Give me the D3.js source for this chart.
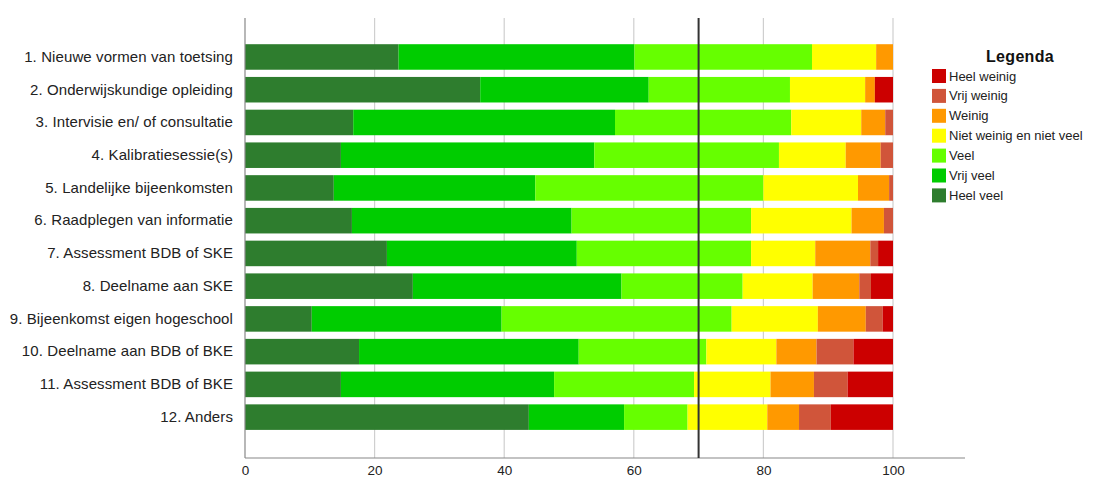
<!DOCTYPE html>
<html><head><meta charset="utf-8">
<script src="https://cdn.jsdelivr.net/npm/d3@7"></script>
<style>body{margin:0;background:#fff}svg{display:block;font-family:"Liberation Sans",Arial,sans-serif}</style>
</head><body><svg id="c" width="1111" height="479"></svg>
<script>
const categories = ["1. Nieuwe vormen van toetsing","2. Onderwijskundige opleiding","3. Intervisie en/ of consultatie","4. Kalibratiesessie(s)","5. Landelijke bijeenkomsten","6. Raadplegen van informatie","7. Assessment BDB of SKE","8. Deelname aan SKE","9. Bijeenkomst eigen hogeschool","10. Deelname aan BDB of BKE","11. Assessment BDB of BKE","12. Anders"];
const seriesNames = ["Heel veel","Vrij veel","Veel","Niet weinig en niet veel","Weinig","Vrij weinig","Heel weinig"];
const heelVeel    = [23.7,36.3,16.7,14.8,13.7,16.5,21.9,25.9,10.3,17.6,14.8,43.8];
const vrijVeel    = [36.4,26.0,40.4,39.1,31.1,33.9,29.3,32.2,29.3,33.9,32.9,14.7];
const veel        = [27.4,21.8,27.2,28.5,35.2,27.7,26.9,18.7,35.5,19.7,21.6,9.8];
const nietWeinig  = [9.9,11.6,10.8,10.3,14.6,15.5,9.9,10.8,13.3,10.8,11.8,12.3];
const weinig      = [2.6,1.5,3.7,5.4,4.8,5.0,8.5,7.2,7.4,6.2,6.7,4.9];
const vrijWeinig  = [0,0,1.2,1.9,0.6,1.4,1.2,1.8,2.6,5.7,5.2,4.9];
const heelWeinig  = [0,2.8,0,0,0,0,2.3,3.4,1.6,6.1,7.0,9.6];
const xTicks = [0,20,40,60,80,100];
const refValue = 70;
const colors = ["#2e7d2e","#00cc00","#66ff00","#ffff00","#ff9900","#d0553a","#cc0000"];
const legendOrder = ["Heel weinig","Vrij weinig","Weinig","Niet weinig en niet veel","Veel","Vrij veel","Heel veel"];

const seriesVals = [heelVeel,vrijVeel,veel,nietWeinig,weinig,vrijWeinig,heelWeinig];
const rows = categories.map((c,i)=>{const o={cat:c}; seriesNames.forEach((s,j)=>o[s]=seriesVals[j][i]); return o;});
const stacked = d3.stack().keys(seriesNames)(rows);

const svg = d3.select("#c");
const x = d3.scaleLinear().domain([0,100]).range([245,893]);
const y = d3.scaleBand().domain(categories).range([40.6,433.5]).paddingInner(0.22).paddingOuter(0.11);
const color = d3.scaleOrdinal().domain(seriesNames).range(colors);
const plotTop = 18, plotBottom = 458;

// gridlines
svg.append("g").selectAll("line").data(xTicks.slice(1)).join("line")
  .attr("x1",d=>x(d)).attr("x2",d=>x(d)).attr("y1",plotTop).attr("y2",plotBottom)
  .attr("stroke","#cfcfcf").attr("stroke-width",1.2);

// bars
svg.append("g").selectAll("g").data(stacked).join("g").attr("fill",d=>color(d.key))
  .selectAll("rect").data(d=>d).join("rect")
  .attr("x",d=>x(d[0])).attr("width",d=>Math.max(0,x(d[1])-x(d[0])))
  .attr("y",d=>y(d.data.cat)).attr("height",y.bandwidth());

// axes lines
svg.append("line").attr("x1",x(0)).attr("x2",x(0)).attr("y1",plotTop).attr("y2",plotBottom).attr("stroke","#888").attr("stroke-width",1.2);
svg.append("line").attr("x1",x(0)).attr("x2",965).attr("y1",plotBottom).attr("y2",plotBottom).attr("stroke","#888").attr("stroke-width",1.2);

// reference line
svg.append("line").attr("x1",x(refValue)).attr("x2",x(refValue)).attr("y1",plotTop).attr("y2",plotBottom).attr("stroke","#333").attr("stroke-width",2);

// x tick labels
const xAxis = d3.axisBottom(x).tickValues(xTicks).tickSize(0).tickPadding(0);
const gx = svg.append("g").attr("transform",`translate(0,${plotBottom+4})`).call(xAxis);
gx.select(".domain").remove();
gx.selectAll("text").attr("font-size",13.5).attr("fill","#222").attr("font-family","Liberation Sans, Arial, sans-serif").attr("dy","0.95em");

// y labels
const yAxis = d3.axisLeft(y).tickSize(0).tickPadding(12);
const gy = svg.append("g").attr("transform",`translate(${x(0)},0)`).call(yAxis);
gy.select(".domain").remove();
gy.selectAll("text").attr("font-size",15).attr("letter-spacing","0.1px").attr("fill","#222").attr("font-family","Liberation Sans, Arial, sans-serif");

// legend
const lg = svg.append("g");
lg.append("text").attr("x",1020).attr("y",62).attr("text-anchor","middle").attr("font-weight","bold").attr("font-size",16).attr("letter-spacing","0.3px").attr("fill","#111").text("Legenda");
const items = lg.selectAll("g.it").data(legendOrder).join("g").attr("class","it")
  .attr("transform",(d,i)=>`translate(932,${69+i*19.9})`);
items.append("rect").attr("width",14).attr("height",14).attr("fill",d=>color(d));
items.append("text").attr("x",17).attr("y",7).attr("dy","0.35em").attr("font-size",13).attr("fill","#222").text(d=>d);
</script></body></html>
